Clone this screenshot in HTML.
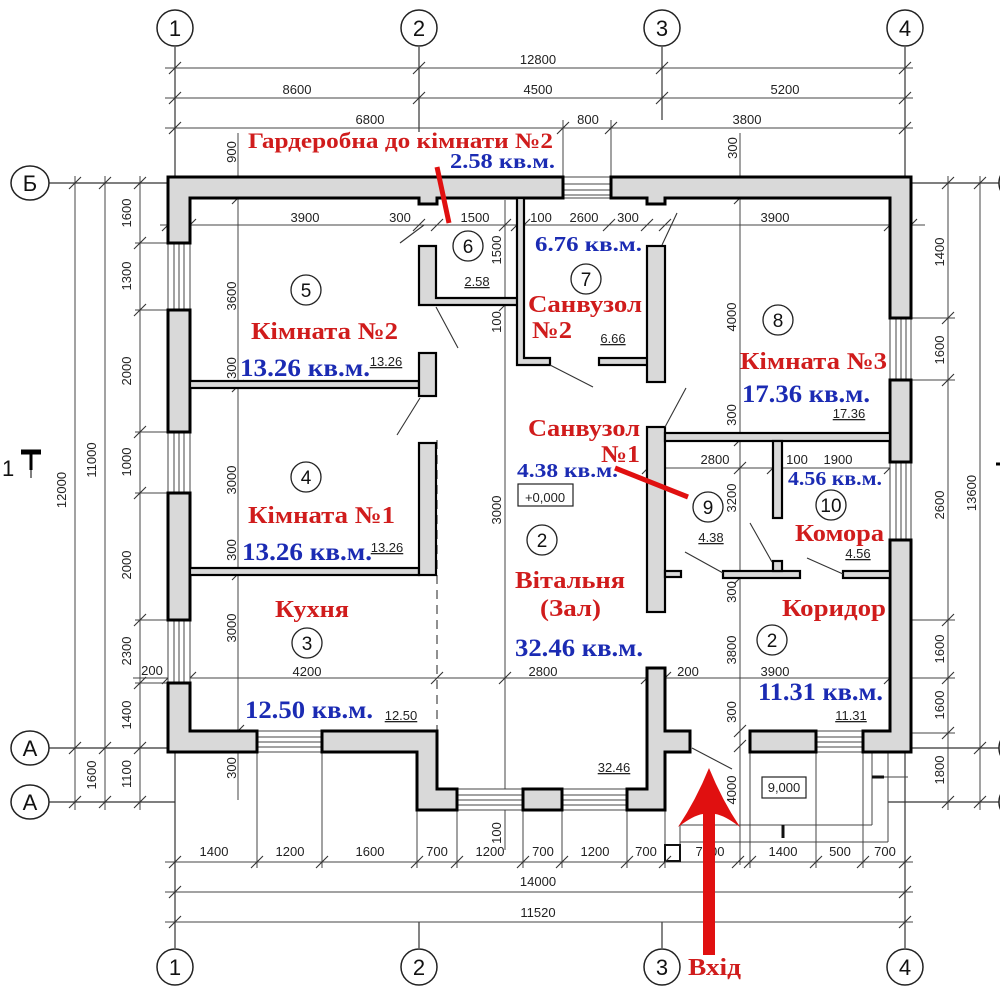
<!DOCTYPE html>
<html><head><meta charset="utf-8"><style>
html,body{margin:0;padding:0;background:#fff;}
svg{display:block;}
.d{font-family:"Liberation Sans",sans-serif;font-size:13px;fill:#222;}
.s{font-family:"Liberation Sans",sans-serif;font-size:13px;fill:#222;text-decoration:underline;}
.r{font-family:"Liberation Serif",serif;font-weight:bold;fill:#d01c1c;}
.b{font-family:"Liberation Serif",serif;font-weight:bold;fill:#1b2bb3;}
.ax{font-family:"Liberation Sans",sans-serif;font-size:22px;fill:#111;}
</style></head><body>
<svg width="1000" height="1000" viewBox="0 0 1000 1000" xmlns="http://www.w3.org/2000/svg">
<rect width="1000" height="1000" fill="#fff"/>
<!-- axis lines -->
<g stroke="#333" stroke-width="1.2" fill="none">
<line x1="175" y1="47" x2="175" y2="948"/>
<line x1="419" y1="47" x2="419" y2="132"/><line x1="419" y1="922" x2="419" y2="948"/>
<line x1="662" y1="47" x2="662" y2="120"/><line x1="662" y1="922" x2="662" y2="948"/>
<line x1="905" y1="47" x2="905" y2="948"/>
<line x1="48" y1="183" x2="168" y2="183"/><line x1="911" y1="183" x2="1000" y2="183"/>
<line x1="48" y1="748" x2="168" y2="748"/><line x1="911" y1="748" x2="1000" y2="748"/>
<line x1="48" y1="802" x2="175" y2="802"/><line x1="888" y1="802" x2="1000" y2="802"/>
</g>
<g stroke="#222" stroke-width="1.5" fill="#fff">
<circle cx="175" cy="28" r="18"/><circle cx="419" cy="28" r="18"/><circle cx="662" cy="28" r="18"/><circle cx="905" cy="28" r="18"/>
<circle cx="175" cy="967" r="18"/><circle cx="419" cy="967" r="18"/><circle cx="662" cy="967" r="18"/><circle cx="905" cy="967" r="18"/>
<ellipse cx="30" cy="183" rx="19" ry="17"/><ellipse cx="30" cy="748" rx="19" ry="17"/><ellipse cx="30" cy="802" rx="19" ry="17"/>
<circle cx="1017" cy="183" r="18"/><circle cx="1017" cy="748" r="18"/><circle cx="1017" cy="802" r="18"/>
</g>
<g class="ax" text-anchor="middle">
<text x="175" y="36">1</text><text x="419" y="36">2</text><text x="662" y="36">3</text><text x="905" y="36">4</text>
<text x="175" y="975">1</text><text x="419" y="975">2</text><text x="662" y="975">3</text><text x="905" y="975">4</text>
<text x="30" y="191">Б</text><text x="30" y="756">А</text><text x="30" y="810">А</text>
</g>
<!-- dimension lines -->
<g stroke="#444" stroke-width="1" fill="none">
<line x1="165" y1="68" x2="913" y2="68"/>
<line x1="165" y1="98" x2="913" y2="98"/>
<line x1="165" y1="128" x2="913" y2="128"/>
<line x1="563" y1="120" x2="563" y2="177"/><line x1="611" y1="120" x2="611" y2="177"/>
<line x1="238" y1="133" x2="238" y2="800"/>
<line x1="740" y1="133" x2="740" y2="865"/>
<line x1="505" y1="200" x2="505" y2="850"/>
<line x1="160" y1="225" x2="925" y2="225"/>
<line x1="648" y1="468" x2="895" y2="468"/>
<line x1="133" y1="678" x2="905" y2="678"/>
<line x1="165" y1="862" x2="913" y2="862"/>
<line x1="165" y1="892" x2="913" y2="892"/>
<line x1="165" y1="922" x2="913" y2="922"/>
<!-- left -->
<line x1="75" y1="176" x2="75" y2="810"/>
<line x1="105" y1="176" x2="105" y2="810"/>
<line x1="140" y1="176" x2="140" y2="810"/>
<line x1="135" y1="243" x2="168" y2="243"/><line x1="135" y1="310" x2="168" y2="310"/>
<line x1="135" y1="432" x2="168" y2="432"/><line x1="135" y1="493" x2="168" y2="493"/>
<line x1="135" y1="620" x2="168" y2="620"/><line x1="135" y1="683" x2="168" y2="683"/>
<!-- right -->
<line x1="948" y1="176" x2="948" y2="810"/>
<line x1="980" y1="176" x2="980" y2="810"/>
<line x1="911" y1="318" x2="955" y2="318"/><line x1="911" y1="380" x2="955" y2="380"/>
<line x1="911" y1="620" x2="955" y2="620"/><line x1="911" y1="678" x2="955" y2="678"/>
<line x1="911" y1="733" x2="955" y2="733"/>
<!-- bottom extension -->
<line x1="257" y1="752" x2="257" y2="868"/><line x1="322" y1="752" x2="322" y2="868"/>
<line x1="417" y1="810" x2="417" y2="868"/><line x1="457" y1="810" x2="457" y2="868"/>
<line x1="523" y1="810" x2="523" y2="868"/><line x1="562" y1="810" x2="562" y2="868"/>
<line x1="627" y1="810" x2="627" y2="868"/><line x1="665" y1="810" x2="665" y2="868"/>
<line x1="750" y1="752" x2="750" y2="868"/><line x1="816" y1="752" x2="816" y2="868"/>
<line x1="863" y1="752" x2="863" y2="868"/>
<!-- porch -->
<line x1="680" y1="825" x2="872" y2="825"/><line x1="872" y1="753" x2="872" y2="825"/>
<line x1="680" y1="842" x2="888" y2="842"/><line x1="888" y1="753" x2="888" y2="842"/>
<line x1="680" y1="825" x2="680" y2="845"/>
<line x1="883" y1="777" x2="908" y2="777"/>
</g>
<g stroke="#111" stroke-width="3"><line x1="872" y1="777" x2="884" y2="777"/><line x1="783" y1="825" x2="783" y2="838"/></g>
<rect x="665" y="845" width="15" height="16" fill="#fff" stroke="#111" stroke-width="2"/>
<rect x="762" y="777" width="44" height="21" fill="#fff" stroke="#222" stroke-width="1.2"/>
<text class="d" x="784" y="792" text-anchor="middle">9,000</text>
<!-- ticks -->
<g stroke="#333" stroke-width="1.1">
<path d="M169 74l12-12M413 74l12-12M656 74l12-12M899 74l12-12
M169 104l12-12M413 104l12-12M656 104l12-12M899 104l12-12
M169 134l12-12M557 134l12-12M605 134l12-12M899 134l12-12
M162 231l12-12M184 231l12-12M413 231l12-12M431 231l12-12M499 231l12-12M511 231l12-12M518 231l12-12M603 231l12-12M641 231l12-12M659 231l12-12M884 231l12-12M905 231l12-12
M642 474l12-12M734 474l12-12M767 474l12-12M884 474l12-12
M162 684l12-12M184 684l12-12M431 684l12-12M499 684l12-12M641 684l12-12M659 684l12-12M884 684l12-12
M232 392l12-12M232 580l12-12M232 737l12-12M734 446l12-12M734 584l12-12M734 737l12-12M734 752l12-12M232 189l12-12M232 204l12-12M734 189l12-12M734 204l12-12M499 311l12-12
M169 868l12-12M251 868l12-12M316 868l12-12M411 868l12-12M451 868l12-12M517 868l12-12M556 868l12-12M621 868l12-12M659 868l12-12M732 868l12-12M744 868l12-12M810 868l12-12M857 868l12-12M899 868l12-12
M169 898l12-12M899 898l12-12M169 928l12-12M899 928l12-12
M69 189l12-12M99 189l12-12M134 189l12-12M134 249l12-12M134 316l12-12M134 438l12-12M134 499l12-12M134 626l12-12M134 689l12-12M69 754l12-12M99 754l12-12M134 754l12-12M69 808l12-12M99 808l12-12M134 808l12-12
M942 189l12-12M974 189l12-12M942 324l12-12M942 386l12-12M942 626l12-12M942 684l12-12M942 739l12-12M974 754l12-12M942 808l12-12M974 808l12-12"/>
</g>
<!-- dashed kitchen line -->
<line x1="437" y1="440" x2="437" y2="731" stroke="#555" stroke-width="1.3" stroke-dasharray="9,6"/>
<!-- windows -->
<g stroke="#444" stroke-width="1" fill="#fff">
<rect x="563" y="177" width="48" height="21"/>
<path d="M563 184h48M563 190h48M563 195h48" fill="none"/>
<rect x="168" y="243" width="22" height="67"/><path d="M174 243v67M179 243v67M184 243v67" fill="none"/>
<rect x="168" y="432" width="22" height="61"/><path d="M174 432v61M179 432v61M184 432v61" fill="none"/>
<rect x="168" y="620" width="22" height="63"/><path d="M174 620v63M179 620v63M184 620v63" fill="none"/>
<rect x="890" y="318" width="21" height="62"/><path d="M896 318v62M901 318v62M906 318v62" fill="none"/>
<rect x="890" y="462" width="21" height="78"/><path d="M896 462v78M901 462v78M906 462v78" fill="none"/>
<rect x="257" y="731" width="65" height="21"/><path d="M257 737h65M257 742h65M257 747h65" fill="none"/>
<rect x="457" y="789" width="66" height="21"/><path d="M457 795h66M457 800h66M457 805h66" fill="none"/>
<rect x="562" y="789" width="65" height="21"/><path d="M562 795h65M562 800h65M562 805h65" fill="none"/>
<rect x="816" y="731" width="47" height="21"/><path d="M816 737h47M816 742h47M816 747h47" fill="none"/>
</g>
<!-- walls -->
<g fill="#d9d9d9" stroke="#000" stroke-width="3" stroke-linejoin="miter">
<path d="M168 177H563V198H437V204H419V198H190V243H168Z"/>
<path d="M611 177H911V318H890V198H665V204H647V198H611Z"/>
<rect x="168" y="310" width="22" height="122"/>
<rect x="168" y="493" width="22" height="127"/>
<path d="M168 683H190V731H257V752H168Z"/>
<path d="M322 731H437V789H457V810H417V752H322Z"/>
<rect x="523" y="789" width="39" height="21"/>
<path d="M627 789H647V668H665V731H690V752H665V810H627Z"/>
<rect x="750" y="731" width="66" height="21"/>
<path d="M863 731H890V540H911V752H863Z"/>
<rect x="890" y="380" width="21" height="82"/>
</g>
<g fill="#d9d9d9" stroke="#000" stroke-width="2.2">
<rect x="190" y="381" width="229" height="7"/>
<rect x="419" y="353" width="17" height="43"/>
<rect x="190" y="568" width="229" height="7"/>
<rect x="419" y="443" width="17" height="132"/>
<path d="M419 246H436V298H518V305H419Z"/>
<path d="M517 198H524V358H550V365H517Z"/>
<rect x="599" y="358" width="49" height="7"/>
<rect x="647" y="246" width="18" height="136"/>
<rect x="647" y="427" width="18" height="185"/>
<rect x="665" y="571" width="16" height="6"/>
<rect x="665" y="433" width="225" height="8"/>
<rect x="773" y="441" width="9" height="77"/>
<rect x="723" y="571" width="77" height="7"/>
<rect x="773" y="561" width="9" height="10"/>
<rect x="843" y="571" width="47" height="7"/>
</g>
<!-- door swings -->
<g stroke="#333" stroke-width="1.1">
<line x1="436" y1="307" x2="458" y2="348"/>
<line x1="420" y1="398" x2="397" y2="435"/>
<line x1="400" y1="243" x2="424" y2="225"/>
<line x1="550" y1="365" x2="593" y2="387"/>
<line x1="665" y1="427" x2="686" y2="388"/>
<line x1="662" y1="245" x2="677" y2="213"/>
<line x1="685" y1="552" x2="723" y2="573"/>
<line x1="750" y1="523" x2="772" y2="562"/>
<line x1="807" y1="558" x2="843" y2="574"/>
<line x1="692" y1="748" x2="732" y2="769"/>
</g>
<!-- room circles -->
<g stroke="#222" stroke-width="1.3" fill="#fff">
<circle cx="306" cy="290" r="15"/><circle cx="306" cy="477" r="15"/><circle cx="307" cy="643" r="15"/>
<circle cx="468" cy="246" r="15"/><circle cx="586" cy="279" r="15"/><circle cx="542" cy="540" r="15"/>
<circle cx="708" cy="507" r="15"/><circle cx="831" cy="505" r="15"/><circle cx="778" cy="320" r="15"/>
<circle cx="772" cy="640" r="15"/>
</g>
<g class="ax" text-anchor="middle" style="font-size:19px">
<text x="306" y="297">5</text><text x="306" y="484">4</text><text x="307" y="650">3</text>
<text x="468" y="253">6</text><text x="586" y="286">7</text><text x="542" y="547">2</text>
<text x="708" y="514">9</text><text x="831" y="512">10</text><text x="778" y="327">8</text>
<text x="772" y="647">2</text>
</g>
<!-- dimension texts -->
<g class="d" text-anchor="middle">
<text x="538" y="64">12800</text>
<text x="297" y="94">8600</text><text x="538" y="94">4500</text><text x="785" y="94">5200</text>
<text x="370" y="124">6800</text><text x="588" y="124">800</text><text x="747" y="124">3800</text>
<text x="305" y="222">3900</text><text x="400" y="222">300</text><text x="475" y="222">1500</text>
<text x="541" y="222">100</text><text x="584" y="222">2600</text><text x="628" y="222">300</text><text x="775" y="222">3900</text>
<text x="715" y="464">2800</text><text x="797" y="464">100</text><text x="838" y="464">1900</text>
<text x="307" y="676">4200</text><text x="543" y="676">2800</text><text x="688" y="676">200</text><text x="775" y="676">3900</text>
<text x="152" y="675">200</text>
<text x="214" y="856">1400</text><text x="290" y="856">1200</text><text x="370" y="856">1600</text>
<text x="437" y="856">700</text><text x="490" y="856">1200</text><text x="543" y="856">700</text>
<text x="595" y="856">1200</text><text x="646" y="856">700</text><text x="710" y="856">7800</text>
<text x="783" y="856">1400</text><text x="840" y="856">500</text><text x="885" y="856">700</text>
<text x="538" y="886">14000</text><text x="538" y="917">11520</text>
<text x="545" y="502">+0,000</text>
</g>
<rect x="518" y="484" width="55" height="22" fill="none" stroke="#222" stroke-width="1.2"/>
<g class="d" text-anchor="middle">
<text transform="translate(236,152) rotate(-90)">900</text>
<text transform="translate(737,148) rotate(-90)">300</text>
<text transform="translate(236,296) rotate(-90)">3600</text>
<text transform="translate(236,368) rotate(-90)">300</text>
<text transform="translate(236,480) rotate(-90)">3000</text>
<text transform="translate(236,550) rotate(-90)">300</text>
<text transform="translate(236,628) rotate(-90)">3000</text>
<text transform="translate(236,768) rotate(-90)">300</text>
<text transform="translate(501,250) rotate(-90)">1500</text>
<text transform="translate(501,322) rotate(-90)">100</text>
<text transform="translate(501,510) rotate(-90)">3000</text>
<text transform="translate(501,833) rotate(-90)">100</text>
<text transform="translate(736,317) rotate(-90)">4000</text>
<text transform="translate(736,415) rotate(-90)">300</text>
<text transform="translate(736,498) rotate(-90)">3200</text>
<text transform="translate(736,592) rotate(-90)">300</text>
<text transform="translate(736,650) rotate(-90)">3800</text>
<text transform="translate(736,712) rotate(-90)">300</text>
<text transform="translate(736,790) rotate(-90)">4000</text>
<text transform="translate(131,213) rotate(-90)">1600</text>
<text transform="translate(131,276) rotate(-90)">1300</text>
<text transform="translate(131,371) rotate(-90)">2000</text>
<text transform="translate(131,462) rotate(-90)">1000</text>
<text transform="translate(131,565) rotate(-90)">2000</text>
<text transform="translate(131,651) rotate(-90)">2300</text>
<text transform="translate(131,715) rotate(-90)">1400</text>
<text transform="translate(131,774) rotate(-90)">1100</text>
<text transform="translate(96,460) rotate(-90)">11000</text>
<text transform="translate(96,775) rotate(-90)">1600</text>
<text transform="translate(66,490) rotate(-90)">12000</text>
<text transform="translate(944,252) rotate(-90)">1400</text>
<text transform="translate(944,350) rotate(-90)">1600</text>
<text transform="translate(944,505) rotate(-90)">2600</text>
<text transform="translate(944,649) rotate(-90)">1600</text>
<text transform="translate(944,705) rotate(-90)">1600</text>
<text transform="translate(944,770) rotate(-90)">1800</text>
<text transform="translate(976,493) rotate(-90)">13600</text>
</g>
<!-- section mark -->
<text x="2" y="476" style="font-family:'Liberation Sans',sans-serif;font-size:22px;fill:#111">1</text>
<path d="M21 452H41" stroke="#000" stroke-width="5"/>
<path d="M31 452V470" stroke="#000" stroke-width="3"/>
<path d="M31 470V478" stroke="#000" stroke-width="1"/>
<path d="M996 464H1000" stroke="#000" stroke-width="3"/>
<!-- small area numbers -->
<g class="s" text-anchor="middle">
<text x="386" y="366">13.26</text><text x="387" y="552">13.26</text><text x="401" y="720">12.50</text>
<text x="477" y="286">2.58</text><text x="613" y="343">6.66</text><text x="711" y="542">4.38</text>
<text x="614" y="772">32.46</text><text x="849" y="418">17.36</text><text x="858" y="558">4.56</text><text x="851" y="720">11.31</text>
</g>
<!-- red labels -->
<g class="r">
<text x="248" y="148" font-size="22" textLength="305" lengthAdjust="spacingAndGlyphs">Гардеробна до кімнати №2</text>
<text x="251" y="339" font-size="24" textLength="147" lengthAdjust="spacingAndGlyphs">Кімната №2</text>
<text x="248" y="523" font-size="24" textLength="147" lengthAdjust="spacingAndGlyphs">Кімната №1</text>
<text x="275" y="617" font-size="24" textLength="74" lengthAdjust="spacingAndGlyphs">Кухня</text>
<text x="528" y="312" font-size="24" textLength="114" lengthAdjust="spacingAndGlyphs">Санвузол</text>
<text x="532" y="338" font-size="24" textLength="40" lengthAdjust="spacingAndGlyphs">№2</text>
<text x="528" y="436" font-size="24" textLength="112" lengthAdjust="spacingAndGlyphs">Санвузол</text>
<text x="601" y="462" font-size="24" textLength="39" lengthAdjust="spacingAndGlyphs">№1</text>
<text x="515" y="588" font-size="24" textLength="110" lengthAdjust="spacingAndGlyphs">Вітальня</text>
<text x="540" y="616" font-size="24" textLength="61" lengthAdjust="spacingAndGlyphs">(Зал)</text>
<text x="740" y="369" font-size="24" textLength="147" lengthAdjust="spacingAndGlyphs">Кімната №3</text>
<text x="795" y="541" font-size="24" textLength="89" lengthAdjust="spacingAndGlyphs">Комора</text>
<text x="782" y="616" font-size="24" textLength="104" lengthAdjust="spacingAndGlyphs">Коридор</text>
<text x="688" y="975" font-size="24" textLength="53" lengthAdjust="spacingAndGlyphs">Вхід</text>
</g>
<!-- blue labels -->
<g class="b">
<text x="450" y="168" font-size="21" textLength="105" lengthAdjust="spacingAndGlyphs">2.58 кв.м.</text>
<text x="240" y="376" font-size="25" textLength="130" lengthAdjust="spacingAndGlyphs">13.26 кв.м.</text>
<text x="242" y="560" font-size="25" textLength="130" lengthAdjust="spacingAndGlyphs">13.26 кв.м.</text>
<text x="245" y="718" font-size="25" textLength="128" lengthAdjust="spacingAndGlyphs">12.50 кв.м.</text>
<text x="535" y="251" font-size="21" textLength="107" lengthAdjust="spacingAndGlyphs">6.76 кв.м.</text>
<text x="517" y="477" font-size="20" textLength="101" lengthAdjust="spacingAndGlyphs">4.38 кв.м.</text>
<text x="515" y="656" font-size="25" textLength="128" lengthAdjust="spacingAndGlyphs">32.46 кв.м.</text>
<text x="742" y="402" font-size="25" textLength="128" lengthAdjust="spacingAndGlyphs">17.36 кв.м.</text>
<text x="788" y="485" font-size="20" textLength="94" lengthAdjust="spacingAndGlyphs">4.56 кв.м.</text>
<text x="758" y="700" font-size="25" textLength="125" lengthAdjust="spacingAndGlyphs">11.31 кв.м.</text>
</g>
<!-- red markers -->
<g stroke="#e01010" stroke-width="5" stroke-linecap="butt">
<line x1="437" y1="167" x2="449" y2="223"/>
<line x1="615" y1="468" x2="688" y2="497"/>
</g>
<path d="M709 768Q722 800 740 827Q724 815 715 814L715 955L703 955L703 814Q694 815 678 827Q696 800 709 768Z" fill="#e01010"/>
</svg>
</body></html>
